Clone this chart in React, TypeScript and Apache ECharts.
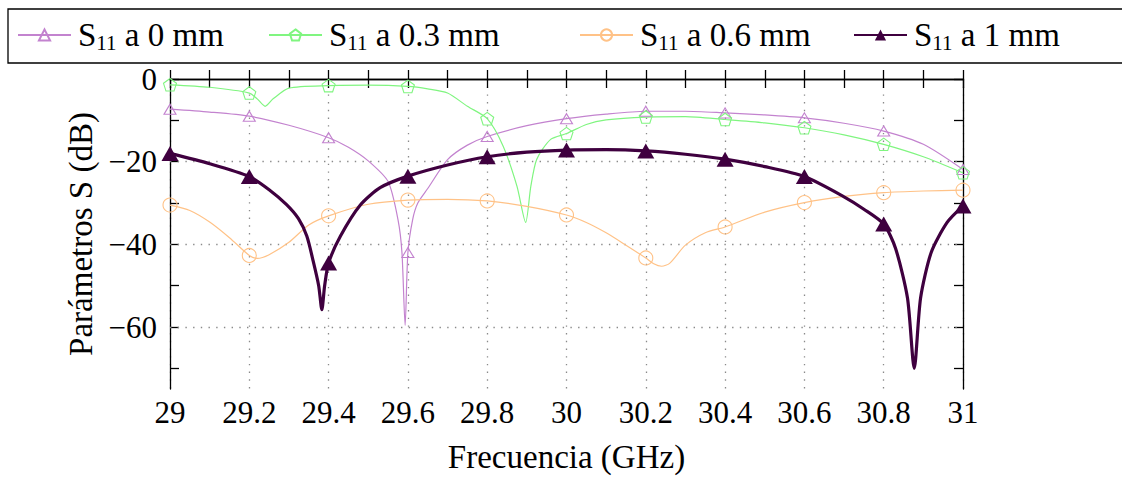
import React, { useEffect, useRef } from "react";
import * as echarts from "echarts";

const FONT = "Liberation Serif";

// Frequencies (GHz) where the markers are drawn
const markerFreqs = [29, 29.2, 29.4, 29.6, 29.8, 30, 30.2, 30.4, 30.6, 30.8, 31];

// S11 a 0 mm
const freq0 = [29, 29.1, 29.2, 29.3, 29.4, 29.45, 29.5, 29.55, 29.575, 29.585, 29.593, 29.6, 29.612, 29.625, 29.65, 29.7, 29.75, 29.8, 29.9, 30, 30.1, 30.2, 30.3, 30.4, 30.5, 30.6, 30.7, 30.8, 30.9, 31];
const s11_0 = [-7.3, -8, -9, -11.2, -14.2, -16.5, -19.8, -24.8, -34, -42, -59.6, -42, -34, -30, -26.5, -19.5, -16, -13.9, -11.3, -9.6, -8.5, -7.8, -7.8, -8.2, -8.7, -9.4, -10.7, -12.6, -15.8, -21.9];

// S11 a 0.3 mm
const freq03 = [29, 29.1, 29.2, 29.22, 29.24, 29.26, 29.3, 29.4, 29.5, 29.6, 29.65, 29.7, 29.75, 29.8, 29.84, 29.875, 29.897, 29.91, 29.925, 29.96, 30, 30.05, 30.1, 30.2, 30.3, 30.4, 30.5, 30.6, 30.7, 30.8, 30.9, 31];
const s11_03 = [-1.4, -2, -3.4, -4.8, -6.6, -4.8, -2.2, -1.6, -1.5, -1.8, -2.4, -3.4, -6.6, -9.6, -16.2, -25.9, -34.7, -26, -19.4, -14.6, -13.2, -11, -9.9, -9.2, -9.1, -9.8, -10.6, -11.8, -13.5, -15.8, -18.8, -22.7];

// S11 a 0.6 mm
const freq06 = [29, 29.05, 29.1, 29.15, 29.2, 29.22, 29.25, 29.3, 29.35, 29.4, 29.5, 29.6, 29.7, 29.8, 29.9, 30, 30.05, 30.1, 30.15, 30.2, 30.22, 30.24, 30.26, 30.3, 30.35, 30.4, 30.5, 30.6, 30.7, 30.8, 30.9, 31];
const s11_06 = [-30.5, -31.8, -34.6, -38.4, -42.7, -43.4, -42.5, -39.5, -35.3, -33.1, -30.3, -29.3, -29.1, -29.5, -30.8, -32.9, -34.7, -37.2, -40.2, -43.3, -44.7, -45.3, -44.6, -40.2, -37.2, -35.8, -32.2, -29.9, -28.4, -27.5, -27.1, -26.9];

// S11 a 1 mm
const freq1 = [29, 29.1, 29.2, 29.25, 29.294, 29.324, 29.345, 29.361, 29.375, 29.383, 29.39, 29.4, 29.43, 29.48, 29.53, 29.6, 29.7, 29.8, 29.9, 30, 30.1, 30.2, 30.3, 30.4, 30.5, 30.6, 30.7, 30.75, 30.8, 30.83, 30.86, 30.877, 30.893, 30.92, 30.96, 31];
const s11_1 = [-18, -20.5, -23.6, -26.8, -30.4, -33.8, -38, -44, -50, -55.8, -50, -44.5, -38, -30.5, -26.3, -23.5, -20.8, -18.8, -17.7, -17.2, -17.1, -17.4, -18.2, -19.4, -21.2, -23.6, -28.5, -31.5, -35.1, -41, -53, -70, -53, -41.9, -34.7, -30.7];

const seriesNames = ["S11 a 0 mm", "S11 a 0.3 mm", "S11 a 0.6 mm", "S11 a 1 mm"];
const seriesColors = ["#c383cf", "#80f580", "#ffc287", "#3f003f"];

const yLabelValues = [-60, -40, -20, 0];
const yTickValues = [-70, -60, -50, -40, -30, -20, -10, 0];
const yGridValues = [-60, -40, -20];
const legendLefts = [17, 268, 579, 853];

const PENTAGON = "path://M50,0 L97.55,34.55 L79.39,90.45 L20.61,90.45 L2.45,34.55 Z";

function buildData(freqs: number[], vals: number[]) {
  return freqs.map((f, i) => {
    const isMarker = markerFreqs.some((m) => Math.abs(m - f) < 1e-6);
    return isMarker ? { value: [f, vals[i]] } : { value: [f, vals[i]], symbol: "none" };
  });
}

const fmtX = (v: number) => String(Math.round(v * 10) / 10);
const fmtY = (v: number) => (v < 0 ? "\u2212" + Math.abs(v) : String(v));

export default function App() {
  const ref = useRef<HTMLDivElement>(null);
  useEffect(() => {
    if (!ref.current) return;
    const chart = echarts.init(ref.current, null, { renderer: "svg" });
    const axisLineStyle = { color: "#000", width: 1.3 };
    const gridDot = { type: [1.4, 6.3] as any, color: "#8a8a8a", width: 1.3 };
    const hollow = (c: string, bw: number) => ({ color: "rgba(0,0,0,0)", borderColor: c, borderWidth: bw });

    const legendBase = {
      orient: "horizontal",
      padding: 0,
      itemWidth: 53,
      itemHeight: 14,
      top: 17,
      selectedMode: false,
      formatter: (n: string) => n.replace("S11", "S{s|11}"),
      textStyle: {
        fontFamily: FONT,
        fontSize: 33,
        color: "#000",
        lineHeight: 36,
        padding: [0, 0, 0, 2],
        rich: {
          s: { fontFamily: FONT, fontSize: 21, color: "#000", verticalAlign: "bottom", lineHeight: 14 },
        },
      },
    };

    const option: any = {
      animation: false,
      backgroundColor: "#fff",
      textStyle: { fontFamily: FONT },
      grid: { left: 170, right: 159, top: 79, bottom: 98, containLabel: false },
      legend: seriesNames.map((n, i) => ({ ...legendBase, left: legendLefts[i], data: [n] })),
      graphic: [
        {
          type: "rect",
          shape: { x: 8, y: 9, width: 1125, height: 54 },
          style: { fill: "none", stroke: "#000", lineWidth: 1.3 },
          silent: true,
        },
      ],
      xAxis: [
        {
          type: "value",
          min: 29,
          max: 31,
          interval: 0.2,
          name: "Frecuencia (GHz)",
          nameLocation: "middle",
          nameGap: 51,
          nameTextStyle: { fontFamily: FONT, fontSize: 33, color: "#000" },
          axisLine: { show: true, lineStyle: axisLineStyle },
          axisTick: { show: true, inside: true, length: 9, lineStyle: axisLineStyle },
          minorTick: { show: true, splitNumber: 2, length: 9, lineStyle: axisLineStyle },
          axisLabel: { formatter: fmtX, fontFamily: FONT, fontSize: 31, color: "#000", margin: 8 },
          splitLine: { show: true, lineStyle: gridDot },
        },
        {
          type: "value",
          position: "top",
          min: 29,
          max: 31,
          interval: 0.2,
          axisLine: { show: true, lineStyle: axisLineStyle },
          axisTick: { show: true, inside: true, length: 9, lineStyle: axisLineStyle },
          minorTick: { show: true, splitNumber: 2, length: 9, lineStyle: axisLineStyle },
          axisLabel: { show: false },
          splitLine: { show: false },
        },
      ],
      yAxis: [
        {
          type: "value",
          min: -75,
          max: 0,
          interval: 5,
          name: "Parámetros S (dB)",
          nameLocation: "middle",
          nameGap: 72,
          nameTextStyle: { fontFamily: FONT, fontSize: 33, color: "#000" },
          axisLine: { show: true, lineStyle: axisLineStyle },
          axisTick: { show: true, inside: true, length: 9, lineStyle: axisLineStyle, customValues: yTickValues },
          axisLabel: { formatter: fmtY, fontFamily: FONT, fontSize: 31, color: "#000", margin: 13, customValues: yLabelValues },
          splitLine: { show: false },
        },
        {
          type: "value",
          position: "right",
          min: -75,
          max: 0,
          interval: 5,
          axisLine: { show: true, lineStyle: axisLineStyle },
          axisTick: { show: true, inside: true, length: 9, lineStyle: axisLineStyle, customValues: yTickValues },
          axisLabel: { show: false },
          splitLine: { show: false },
        },
      ],
      series: [
        {
          name: seriesNames[0],
          type: "line",
          data: buildData(freq0, s11_0),
          smooth: 0.25,
          symbol: "triangle",
          symbolSize: [12, 10],
          lineStyle: { color: seriesColors[0], width: 1.2 },
          itemStyle: hollow(seriesColors[0], 1.1),
          emphasis: { disabled: true },
          markLine: {
            silent: true,
            symbol: ["none", "none"],
            label: { show: false },
            lineStyle: gridDot,
            z: 1,
            data: yGridValues.map((v) => ({ yAxis: v })),
          },
        },
        {
          name: seriesNames[1],
          type: "line",
          data: buildData(freq03, s11_03),
          smooth: 0.25,
          symbol: PENTAGON,
          symbolSize: [13, 12.5],
          lineStyle: { color: seriesColors[1], width: 1.2 },
          itemStyle: hollow(seriesColors[1], 1.1),
          emphasis: { disabled: true },
        },
        {
          name: seriesNames[2],
          type: "line",
          data: buildData(freq06, s11_06),
          smooth: 0.25,
          symbol: "circle",
          symbolSize: 14,
          lineStyle: { color: seriesColors[2], width: 1.2 },
          itemStyle: hollow(seriesColors[2], 1.1),
          emphasis: { disabled: true },
        },
        {
          name: seriesNames[3],
          type: "line",
          data: buildData(freq1, s11_1),
          smooth: 0.25,
          symbol: "triangle",
          symbolSize: [17, 15],
          lineStyle: { color: seriesColors[3], width: 3.2 },
          itemStyle: { color: seriesColors[3] },
          emphasis: { disabled: true },
        },
      ],
    };
    chart.setOption(option);
    return () => chart.dispose();
  }, []);
  return (
    <div
      ref={ref}
      style={{ position: "absolute", left: 0, top: 0, width: 1122, height: 487 }}
    />
  );
}
